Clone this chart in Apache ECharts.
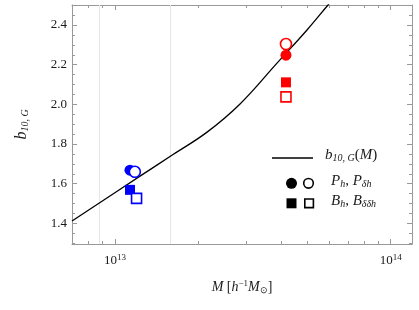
<!DOCTYPE html>
<html>
<head>
<meta charset="utf-8">
<script src="https://cdn.jsdelivr.net/npm/echarts@6/dist/echarts.min.js"></script>
<style>html,body{margin:0;padding:0;background:#fff}#c{width:419px;height:310px}</style>
</head>
<body>
<div id="c"></div>
<script>
// ---- data ----
const curveMass = [6.98e12, 1.232e13, 1.623e13, 2.157e13, 2.841e13, 3.869e13, 4.971e13, 5.925e13, 6.55e13];
const curveBias = [1.412, 1.638, 1.747, 1.860, 2.002, 2.208, 2.375, 2.501, 2.571];
const phMass = [1.133e13, 4.17e13];
const phBias = [1.668, 2.248];
const pdhMass = [1.18e13, 4.17e13];
const pdhBias = [1.660, 2.304];
const bhMass = [1.133e13, 4.17e13];
const bhBias = [1.569, 2.111];
const bddhMass = [1.197e13, 4.17e13];
const bddhBias = [1.526, 2.038];
const pointColors = ['#0000ff', '#ff0000'];
const gridMasses = [8.77e12, 1.59e13];
const yMajor = [1.4, 1.6, 1.8, 2.0, 2.2, 2.4];
const yMinor = [1.3, 1.35, 1.45, 1.5, 1.55, 1.65, 1.7, 1.75, 1.85, 1.9, 1.95, 2.05, 2.1, 2.15, 2.25, 2.3, 2.35, 2.45, 2.5];
const xMinor = [8e12, 9e12, 2e13, 3e13, 4e13, 5e13, 6e13, 7e13, 8e13, 9e13];
const xMin = 6.98e12, xMax = 1.195e14, yMin = 1.296, yMax = 2.501;

const FONT = 'Liberation Serif';
const AXC = '#999999';
const TXT = '#1a1a1a';
const zip = (a, b) => a.map((v, i) => [v, b[i]]);

const xBase = (pos, major) => ({
  type: 'log', logBase: 10, min: xMin, max: xMax, position: pos,
  axisLine: { show: major, lineStyle: { color: AXC } },
  splitLine: { show: false },
  axisTick: major ? { inside: true, length: 5, lineStyle: { color: AXC } }
                  : { inside: true, length: 3, customValues: xMinor, lineStyle: { color: AXC } },
  axisLabel: { show: false }
});
const yBase = (pos, major, labels) => ({
  type: 'value', min: yMin, max: yMax, position: pos,
  axisLine: { show: major, lineStyle: { color: AXC } },
  splitLine: { show: false },
  axisTick: { inside: true, length: major ? 5 : 3, customValues: major ? yMajor : yMinor, lineStyle: { color: AXC } },
  axisLabel: labels ? { show: true, customValues: yMajor, margin: 5, fontFamily: FONT, fontSize: 13, color: TXT, formatter: v => v.toFixed(1) } : { show: false }
});

const x0 = xBase('bottom', true);
x0.axisLabel = {
  show: true, margin: 9, fontFamily: FONT, fontSize: 13, color: TXT, showMinLabel: false,
  formatter: v => '10{sup|' + Math.round(Math.log10(v)) + '}',
  rich: { sup: { fontFamily: FONT, fontSize: 9, verticalAlign: 'top', padding: [0, 0, 7, 0], color: TXT } }
};
x0.name = '{i|M} [{i|h}{sup|−1}{i|M}{sub|⊙}]';
x0.nameLocation = 'middle';
x0.nameGap = 35;
x0.nameTextStyle = {
  fontFamily: FONT, fontSize: 14, color: TXT,
  rich: {
    i: { fontFamily: FONT, fontStyle: 'italic', fontSize: 14, color: TXT },
    sup: { fontFamily: FONT, fontSize: 9, padding: [0, 0, 8, 0], color: TXT },
    sub: { fontFamily: FONT, fontSize: 9, padding: [6, 0, 0, 0], color: TXT }
  }
};
const y0 = yBase('left', true, true);
y0.name = '{i|b}{sub|10, G}';
y0.nameLocation = 'middle';
y0.nameGap = 42;
y0.nameRotate = 90;
y0.nameTextStyle = {
  fontFamily: FONT, fontSize: 15, color: TXT,
  rich: {
    i: { fontFamily: FONT, fontStyle: 'italic', fontSize: 16, color: TXT },
    sub: { fontFamily: FONT, fontStyle: 'italic', fontSize: 10, padding: [7, 0, 0, 0], color: TXT }
  }
};

const scatter = (name, mass, bias, symbol, filled, z) => ({
  name, type: 'scatter', symbol, symbolSize: symbol === 'circle' ? 11 : 10, z,
  data: mass.map((m, i) => ({
    value: [m, bias[i]],
    itemStyle: filled ? { color: pointColors[i], borderWidth: 0, opacity: 1 }
                      : { color: '#ffffff', borderColor: pointColors[i], borderWidth: 1.6, opacity: 1 }
  }))
});

const legendRich = {
  i: { fontFamily: FONT, fontStyle: 'italic', fontSize: 15, fill: TXT },
  n: { fontFamily: FONT, fontSize: 15, fill: TXT },
  sub: { fontFamily: FONT, fontStyle: 'italic', fontSize: 10, padding: [6, 0, 0, 0], fill: TXT }
};

const chart = echarts.init(document.getElementById('c'), null, { renderer: 'canvas' });
chart.setOption({
  animation: false,
  backgroundColor: '#fff',
  grid: { left: 72, top: 5, width: 340, height: 239, show: false },
  xAxis: [x0, xBase('bottom', false), xBase('top', true), xBase('top', false)],
  yAxis: [y0, yBase('left', false, false), yBase('right', true, false), yBase('right', false, false)],
  series: [
    {
      name: 'b10G', type: 'line', smooth: 0.4, showSymbol: false, symbol: 'none', z: 3,
      lineStyle: { color: '#000', width: 1.3 },
      data: zip(curveMass, curveBias),
      markLine: {
        silent: true, symbol: 'none', label: { show: false }, z: 1,
        lineStyle: { color: '#e6e6e6', width: 1, type: 'solid' },
        data: gridMasses.map(m => ({ xAxis: m }))
      }
    },
    scatter('Ph', phMass, phBias, 'circle', true, 4),
    scatter('Pdh', pdhMass, pdhBias, 'circle', false, 5),
    scatter('Bh', bhMass, bhBias, 'rect', true, 4),
    scatter('Bddh', bddhMass, bddhBias, 'rect', false, 5)
  ],
  graphic: [
    { type: 'line', shape: { x1: 272, y1: 158, x2: 313, y2: 158 }, style: { stroke: '#000', lineWidth: 1.3 } },
    { type: 'text', left: 325, top: 148, style: { text: '{i|b}{sub|10, G}{n|(}{i|M}{n|)}', rich: legendRich } },
    { type: 'circle', shape: { cx: 291.5, cy: 183.3, r: 5.5 }, style: { fill: '#000' } },
    { type: 'circle', shape: { cx: 308.5, cy: 183.3, r: 4.8 }, style: { fill: '#fff', stroke: '#000', lineWidth: 1.6 } },
    { type: 'text', left: 331, top: 174, style: { text: '{i|P}{sub|h}{n|, }{i|P}{sub|δh}', rich: legendRich } },
    { type: 'rect', shape: { x: 286.5, y: 198.3, width: 10, height: 10 }, style: { fill: '#000' } },
    { type: 'rect', shape: { x: 304.8, y: 199, width: 8.6, height: 8.6 }, style: { fill: '#fff', stroke: '#000', lineWidth: 1.6 } },
    { type: 'text', left: 331, top: 194, style: { text: '{i|B}{sub|h}{n|, }{i|B}{sub|δδh}', rich: legendRich } }
  ]
});
</script>
</body>
</html>
